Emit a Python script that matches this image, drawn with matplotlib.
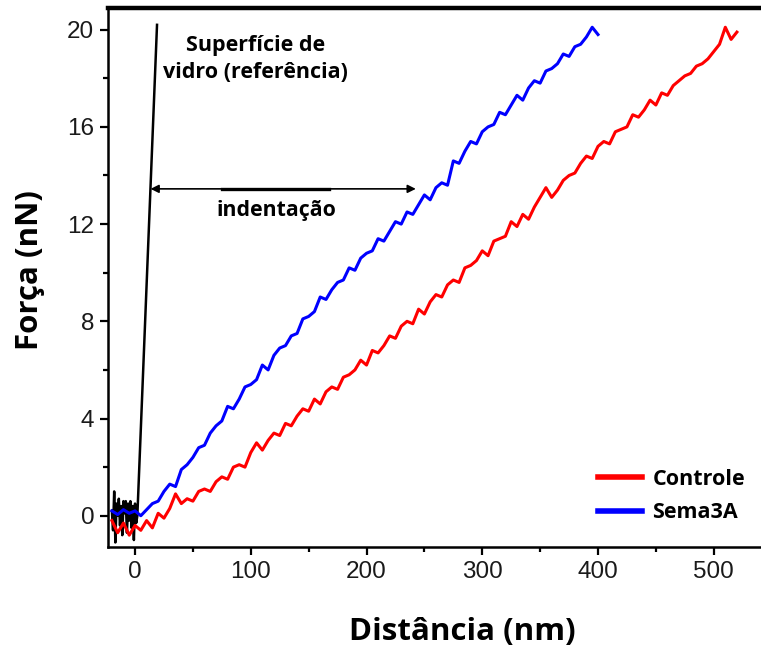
import numpy as np
import matplotlib.pyplot as plt

plt.rcParams['font.family'] = ['Liberation Sans', 'DejaVu Sans']

# force curves sampled every 5 nm starting at -20 nm
x_start, x_step = -20, 5
sema3a = [0.2, 0.05, 0.25, 0.1, 0.2, 0.0, 0.25, 0.5, 0.6, 1.0,
          1.3, 1.2, 1.9, 2.1, 2.4, 2.8, 2.9, 3.4, 3.7, 3.9,
          4.5, 4.4, 4.8, 5.3, 5.4, 5.6, 6.2, 6.0, 6.6, 6.9,
          7.0, 7.4, 7.5, 8.1, 8.2, 8.4, 9.0, 8.9, 9.3, 9.6,
          9.7, 10.2, 10.1, 10.6, 10.8, 10.9, 11.4, 11.3, 11.7, 12.1,
          12.0, 12.5, 12.4, 12.8, 13.2, 13.0, 13.5, 13.7, 13.6, 14.6,
          14.5, 15.0, 15.4, 15.3, 15.8, 16.0, 16.1, 16.6, 16.5, 16.9,
          17.3, 17.1, 17.6, 17.9, 17.8, 18.3, 18.4, 18.6, 19.0, 18.9,
          19.3, 19.4, 19.7, 20.1, 19.8]
controle = [-0.2, -0.7, -0.3, -0.8, -0.4, -0.6, -0.2, -0.5, 0.1, -0.1,
            0.3, 0.9, 0.5, 0.7, 0.6, 1.0, 1.1, 1.0, 1.4, 1.6,
            1.5, 2.0, 2.1, 2.0, 2.6, 3.0, 2.7, 3.1, 3.4, 3.3,
            3.8, 3.7, 4.1, 4.4, 4.3, 4.8, 4.6, 5.1, 5.3, 5.2,
            5.7, 5.8, 6.0, 6.4, 6.2, 6.8, 6.7, 7.0, 7.4, 7.3,
            7.8, 8.0, 7.9, 8.5, 8.3, 8.8, 9.1, 9.0, 9.5, 9.7,
            9.6, 10.2, 10.3, 10.5, 10.9, 10.7, 11.3, 11.4, 11.5, 12.1,
            11.9, 12.4, 12.2, 12.7, 13.1, 13.5, 13.1, 13.4, 13.8, 14.0,
            14.1, 14.5, 14.8, 14.7, 15.2, 15.4, 15.3, 15.8, 15.9, 16.0,
            16.5, 16.4, 16.7, 17.1, 16.9, 17.4, 17.3, 17.7, 17.9, 18.1,
            18.2, 18.5, 18.6, 18.8, 19.1, 19.4, 20.1, 19.6, 19.9]

# glass reference: baseline noise then steep contact line
glass_x = [-20, -19, -18, -17, -16, -15, -14, -13, -12, -11, -10, -9, -8, -7, -6, -5,
           -4, -3, -2, -1, 0, 1, 2, 19]
glass_y = [0.2, -0.6, 1.0, -1.1, 0.5, 0.0, 0.7, -0.4, 0.4, -0.8, 0.6, 0.1, 0.6, -0.7,
           0.5, -0.2, 0.6, -0.5, 0.4, -1.0, 0.5, -0.3, 0.0, 20.2]

xb = x_start + x_step * np.arange(len(sema3a))
xr = x_start + x_step * np.arange(len(controle))

fig = plt.figure(figsize=(7.61, 6.51), dpi=100)
ax = fig.add_axes([0.142, 0.160, 0.861, 0.828])

ax.plot(glass_x, glass_y, color='black', lw=1.8)
ax.plot(xr, controle, color='#ff0000', lw=2.2, label='Controle')
ax.plot(xb, sema3a, color='#0000ff', lw=2.2, label='Sema3A')

ax.set_xlim(-23.3, 542.8)
ax.set_ylim(-1.28, 20.9)
ax.set_xticks([0, 100, 200, 300, 400, 500])
ax.set_xticks([50, 150, 250, 350, 450], minor=True)
ax.set_yticks([0, 4, 8, 12, 16, 20])
ax.set_yticks([2, 6, 10, 14, 18], minor=True)
ax.tick_params(which='major', direction='out', length=6, width=1.6, pad=4,
               labelsize=17.5, labelcolor='#1a1a1a')
ax.tick_params(which='minor', direction='out', length=3.5, width=1.6)
for side in ['left', 'bottom', 'right']:
    ax.spines[side].set_linewidth(1.8)
ax.spines['top'].set_linewidth(3.2)

fig.text(0.607, 0.029, 'Distância (nm)', ha='center', va='center', fontsize=22.5,
         fontweight='bold', family='Open Sans')
fig.text(0.040, 0.585, 'Força (nN)', ha='center', va='center', rotation=90,
         fontsize=22.5, fontweight='bold', family='Open Sans')

ax.text(104, 18.8, 'Superfície de\nvidro (referência)', ha='center', va='center',
        fontsize=15.5, fontweight='bold', family='Open Sans', linespacing=1.4)
ax.annotate('', xy=(11, 13.45), xytext=(245, 13.45),
            arrowprops=dict(arrowstyle='<|-|>', color='black', lw=1.2, mutation_scale=12))
ax.plot([75, 168], [13.45, 13.45], color='black', lw=2.4)
ax.text(122.5, 12.58, 'indentação', ha='center', va='center', fontsize=15.3,
        fontweight='bold', family='Open Sans')

leg = ax.legend(loc='upper left', bbox_to_anchor=(0.748, 0.145), frameon=False,
                borderpad=0, borderaxespad=0,
                prop={'family': 'Open Sans', 'weight': 'bold', 'size': 15.5},
                handlelength=2.05, handletextpad=0.47, labelspacing=0.58)
for line in leg.get_lines():
    line.set_linewidth(4)

fig.savefig('out.png', dpi=100)
